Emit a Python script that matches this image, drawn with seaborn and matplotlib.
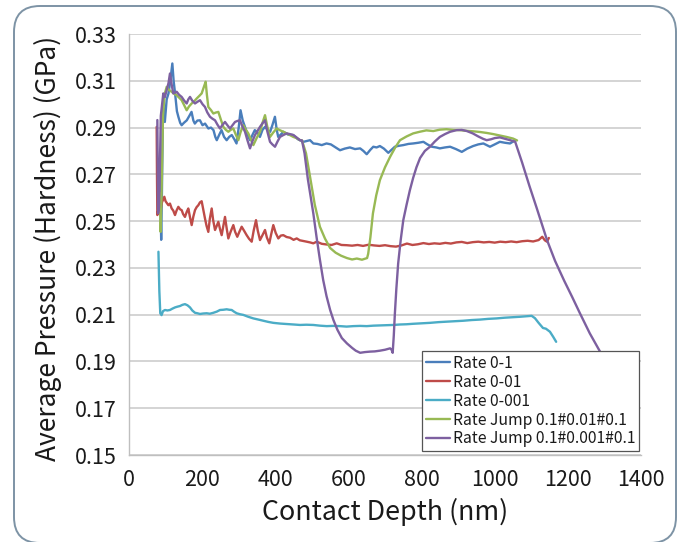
import numpy as np
import pandas as pd
import matplotlib
matplotlib.use("Agg")
import matplotlib.pyplot as plt
import seaborn as sns
from matplotlib.patches import FancyBboxPatch
from matplotlib.transforms import IdentityTransform

# ---------------- data ----------------
series_names = ["Rate 0-1", "Rate 0-01", "Rate 0-001",
                "Rate Jump 0.1#0.01#0.1", "Rate Jump 0.1#0.001#0.1"]
series_colors = ["#4A7EBB", "#BE4B48", "#4BACC6", "#98B954", "#7D60A0"]

blue_x = [84, 88, 90, 93, 98, 103, 108, 113, 118.5, 122, 126, 131, 135, 140, 144, 150, 158, 165, 171, 176,
          180, 187, 194, 201, 208, 217, 224, 231, 236, 240, 247, 253, 260, 267, 274, 281, 288, 294, 300, 305,
          311, 317, 324, 331, 338, 344, 351, 358, 365, 372, 379, 386, 392, 399, 404, 408, 415, 422, 435, 449,
          462, 477, 495, 504, 515, 527, 540, 552, 565, 577, 590, 604, 618, 632, 641, 650, 660, 668, 677, 686,
          697, 709, 718, 727, 738, 750, 764, 777, 791, 805, 816, 828, 840, 850, 864, 878, 894, 910, 925, 941,
          955, 969, 978, 987, 1000, 1014, 1028, 1042, 1050, 1058]
blue_y = [0.275, 0.242, 0.262, 0.300, 0.2924, 0.302, 0.3046, 0.310, 0.3174, 0.310, 0.3046, 0.297, 0.2946, 0.292,
          0.2910, 0.292, 0.2931, 0.295, 0.2967, 0.293, 0.2917, 0.293, 0.2931, 0.291, 0.2917, 0.2896, 0.290, 0.2889,
          0.286, 0.2846, 0.287, 0.2889, 0.286, 0.2846, 0.286, 0.2868, 0.285, 0.2832, 0.290, 0.2974, 0.293, 0.2903,
          0.287, 0.2846, 0.287, 0.2889, 0.288, 0.2860, 0.289, 0.2903, 0.289, 0.2882, 0.291, 0.2946, 0.289, 0.2860,
          0.287, 0.2882, 0.287, 0.2868, 0.285, 0.2839, 0.2846, 0.2832, 0.2830, 0.2825, 0.2832, 0.2828, 0.2815,
          0.2803, 0.2810, 0.2815, 0.2808, 0.2811, 0.2800, 0.2786, 0.2805, 0.2818, 0.2815, 0.2821, 0.2810, 0.2792,
          0.2805, 0.2818, 0.2822, 0.2825, 0.2830, 0.2832, 0.2835, 0.2839, 0.2828, 0.2818, 0.2815, 0.2811, 0.2815,
          0.2818, 0.2808, 0.2796, 0.2810, 0.2821, 0.2828, 0.2832, 0.2825, 0.2818, 0.2828, 0.2839, 0.2835, 0.2832,
          0.2840, 0.2846]

red_x = [75.7, 76.5, 77.5, 80, 84.8, 90, 96.6, 100, 107.6, 112, 116.7, 121, 125.8, 130, 134.9, 140, 144, 148,
         153, 158, 162.2, 167, 171.4, 176, 180.5, 185, 189.6, 194, 198.7, 203, 207.8, 212, 216.9, 221, 226.1,
         230, 235.2, 240, 244.3, 249, 253.4, 258, 262.5, 267, 271.6, 278, 285.3, 290, 296.1, 302, 308.1, 315,
         321.7, 328, 335.5, 341, 347.3, 352, 358.2, 365, 371.9, 377, 383.6, 389, 394.6, 401, 408.3, 415, 421.9,
         431, 440.3, 450, 458.6, 467, 476.6, 486, 494.9, 504, 513.3, 527, 540.6, 554, 567.9, 581, 595.3, 610,
         625, 640, 655, 670, 685, 700, 715, 730, 745, 760, 775, 790, 805, 820, 835, 850, 865, 880, 895, 910,
         925, 940, 955, 970, 985, 1000, 1015, 1030, 1045, 1060, 1075, 1090, 1105, 1120, 1130, 1137, 1143, 1148]
red_y = [0.2903, 0.270, 0.2526, 0.2545, 0.2533, 0.258, 0.2604, 0.2585, 0.2568, 0.2575, 0.2554, 0.2545, 0.2526,
         0.2545, 0.2561, 0.2550, 0.2547, 0.2530, 0.2518, 0.2540, 0.2554, 0.2515, 0.2483, 0.2520, 0.2547, 0.2560,
         0.2568, 0.2580, 0.2585, 0.2550, 0.2511, 0.2480, 0.2454, 0.2510, 0.2554, 0.2505, 0.2462, 0.2480, 0.2497,
         0.2465, 0.2440, 0.2480, 0.2518, 0.2470, 0.2426, 0.2455, 0.2483, 0.2455, 0.2433, 0.2455, 0.2476, 0.2458,
         0.2440, 0.2425, 0.2412, 0.2460, 0.2504, 0.2460, 0.2419, 0.2440, 0.2462, 0.2430, 0.2405, 0.2445, 0.2483,
         0.2450, 0.2426, 0.2438, 0.2440, 0.2432, 0.2429, 0.2420, 0.2426, 0.2418, 0.2415, 0.2412, 0.2409, 0.2405,
         0.2412, 0.2403, 0.2400, 0.2398, 0.2405, 0.2398, 0.2397, 0.2395, 0.2398, 0.2394, 0.2399, 0.2396, 0.2394,
         0.2397, 0.2393, 0.2391, 0.2396, 0.2404, 0.2398, 0.2401, 0.2406, 0.2402, 0.2405, 0.2403, 0.2407, 0.2404,
         0.2409, 0.2411, 0.2406, 0.2410, 0.2412, 0.2409, 0.2411, 0.2408, 0.2412, 0.2410, 0.2413, 0.2410, 0.2414,
         0.2416, 0.2413, 0.2419, 0.2433, 0.2418, 0.2412, 0.2428]

cyan_x = [80.5, 83, 85.5, 89, 93, 98.4, 105, 112, 119, 125.8, 132, 139.5, 146, 153.1, 160, 166.8, 173, 180.5,
          187, 194.1, 203, 212.4, 221, 230.6, 240, 248.8, 258, 267.1, 274, 280.8, 288, 294.5, 303, 312.6, 326,
          340, 354, 367.3, 381, 394.6, 413, 431.2, 450, 467.6, 485, 504, 522, 540.6, 558, 577, 595, 613.3, 632,
          650, 668, 686, 704, 722.8, 741, 759, 777, 800, 823, 846, 868, 891, 914, 937, 960, 982, 1005, 1027,
          1048, 1069, 1085, 1101, 1110, 1120, 1132, 1140, 1151, 1160, 1168]
cyan_y = [0.2369, 0.2200, 0.2106, 0.2098, 0.2115, 0.2120, 0.2118, 0.2120, 0.2126, 0.2131, 0.2134, 0.2137,
          0.2142, 0.2145, 0.2140, 0.2131, 0.2118, 0.2108, 0.2106, 0.2103, 0.2105, 0.2106, 0.2104, 0.2108, 0.2113,
          0.2120, 0.2121, 0.2123, 0.2121, 0.2120, 0.2112, 0.2106, 0.2102, 0.2099, 0.2091, 0.2084, 0.2079, 0.2074,
          0.2069, 0.2065, 0.2062, 0.2060, 0.2058, 0.2056, 0.2057, 0.2056, 0.2053, 0.2051, 0.2052, 0.2051, 0.2049,
          0.2051, 0.2052, 0.2051, 0.2053, 0.2054, 0.2055, 0.2056, 0.2058, 0.2059, 0.2061, 0.2063, 0.2065, 0.2068,
          0.2070, 0.2072, 0.2074, 0.2077, 0.2079, 0.2082, 0.2084, 0.2087, 0.2089, 0.2091, 0.2093, 0.2095, 0.2085,
          0.2065, 0.2043, 0.2040, 0.2027, 0.2005, 0.1984]

green_x = [85, 86.6, 89, 93, 97, 103, 110, 116.7, 123, 130.4, 137, 144, 151, 157.7, 164, 171.4, 178, 185, 192,
           198.7, 205, 209.6, 213, 216.9, 224, 230.6, 237, 244.3, 251, 258, 265, 271.6, 278, 285.3, 292, 298.9,
           305, 312.6, 319, 326.3, 333, 340, 349, 358.2, 365, 371.9, 378, 385.6, 395, 403.9, 412, 421.9, 435,
           449.3, 458, 467.6, 473, 484, 495, 508, 522, 536, 550, 565, 580, 596, 610, 623, 637, 651, 654, 660,
           667, 676, 686, 700, 714, 728, 741, 759, 777, 795, 813, 832, 850, 868, 887, 905, 923, 941, 960, 978,
           996, 1014, 1032, 1050, 1061]
green_y = [0.262, 0.2454, 0.262, 0.295, 0.3040, 0.3074, 0.3060, 0.3053, 0.3045, 0.3038, 0.3028, 0.3017, 0.2995,
           0.2974, 0.2990, 0.3003, 0.3012, 0.3024, 0.3035, 0.3046, 0.3075, 0.3096, 0.3040, 0.2988, 0.2975, 0.2960,
           0.2964, 0.2967, 0.2935, 0.2903, 0.2890, 0.2882, 0.2890, 0.2896, 0.2870, 0.2846, 0.2880, 0.2910, 0.2892,
           0.2875, 0.2850, 0.2825, 0.2855, 0.2882, 0.2920, 0.2953, 0.2905, 0.2860, 0.2880, 0.2896, 0.2889, 0.2882,
           0.2872, 0.2860, 0.2855, 0.2846, 0.2845, 0.2790, 0.2690, 0.2570, 0.2476, 0.2425, 0.2385, 0.2365, 0.2352,
           0.2342, 0.2336, 0.2340, 0.2335, 0.2342, 0.2360, 0.2430, 0.2533, 0.2610, 0.2675, 0.2730, 0.2775, 0.2815,
           0.2846, 0.2862, 0.2875, 0.2882, 0.2888, 0.2885, 0.2891, 0.2893, 0.2890, 0.2889, 0.2886, 0.2884, 0.2881,
           0.2877, 0.2872, 0.2866, 0.2860, 0.2853, 0.2845]

purple_x = [77.5, 78.5, 79.5, 82, 84, 87, 93.8, 98, 103, 108, 112, 116, 121, 126, 130.4, 137, 144, 151, 157.7,
            162, 166.8, 173, 180.5, 187, 194.1, 201, 207.8, 214, 221.5, 228, 235.2, 242, 248.8, 255, 262.5, 269,
            276.2, 283, 289.9, 296, 303.5, 310, 317.2, 324, 330.9, 337, 344.5, 351, 358.2, 365, 371.9, 378, 385.6,
            392, 399.2, 406, 412.9, 422, 431.2, 440, 449.3, 458, 467.6, 473, 480, 489, 496, 504, 513, 522, 531,
            540, 550, 559, 570, 582, 596, 610, 620, 632, 645, 659, 672, 686, 700, 714, 718, 721, 724, 727, 731,
            736, 743, 750, 759, 768, 777, 786, 796, 809, 823, 836, 850, 864, 878, 896, 910, 924, 940, 955, 968,
            978, 990, 1000, 1014, 1028, 1042, 1056, 1075, 1095, 1115, 1130, 1143, 1165, 1190, 1212, 1233, 1260,
            1288, 1320, 1355, 1385]
purple_y = [0.2932, 0.270, 0.2533, 0.2560, 0.270, 0.295, 0.3046, 0.3030, 0.3060, 0.3090, 0.3131, 0.3090, 0.3046,
            0.3050, 0.3053, 0.3040, 0.3031, 0.3015, 0.3003, 0.3020, 0.3031, 0.3015, 0.3003, 0.3010, 0.3017, 0.3000,
            0.2988, 0.2965, 0.2946, 0.2938, 0.2931, 0.2912, 0.2896, 0.2910, 0.2924, 0.2910, 0.2896, 0.2910, 0.2924,
            0.2928, 0.2931, 0.2905, 0.2882, 0.2845, 0.2811, 0.2840, 0.2868, 0.2885, 0.2903, 0.2918, 0.2931, 0.2885,
            0.2839, 0.2828, 0.2818, 0.2840, 0.2860, 0.2868, 0.2875, 0.2872, 0.2868, 0.2858, 0.2846, 0.2845, 0.2790,
            0.2680, 0.2610, 0.2533, 0.2430, 0.2335, 0.2248, 0.2180, 0.2120, 0.2077, 0.2035, 0.2000, 0.1977, 0.1958,
            0.1946, 0.1937, 0.1940, 0.1942, 0.1943, 0.1946, 0.1950, 0.1956, 0.1950, 0.1937, 0.2010, 0.2105, 0.2210,
            0.2319, 0.2420, 0.2504, 0.2570, 0.2632, 0.2685, 0.2730, 0.2770, 0.2800, 0.2818, 0.2840, 0.2860, 0.2872,
            0.2882, 0.2889, 0.2890, 0.2885, 0.2875, 0.2862, 0.2852, 0.2846, 0.2850, 0.2855, 0.2858, 0.2852, 0.2846,
            0.2839, 0.2750, 0.2650, 0.2555, 0.2482, 0.2419, 0.2330, 0.2245, 0.2175, 0.2106, 0.2020, 0.1942, 0.1850,
            0.1750, 0.1665]

x_ticks = [0, 200, 400, 600, 800, 1000, 1200, 1400]
y_ticks = [0.15, 0.17, 0.19, 0.21, 0.23, 0.25, 0.27, 0.29, 0.31, 0.33]
x_label = "Contact Depth (nm)"
y_label = "Average Pressure (Hardness) (GPa)"

# ---------------- build long table ----------------
frames = []
for name, xs, ys in zip(series_names,
                        [blue_x, red_x, cyan_x, green_x, purple_x],
                        [blue_y, red_y, cyan_y, green_y, purple_y]):
    frames.append(pd.DataFrame({"depth": xs, "hardness": ys, "series": name}))
df = pd.concat(frames, ignore_index=True)

# ---------------- style ----------------
sns.set_theme(style="white")
plt.rcParams["font.family"] = ["Noto Sans CJK JP", "DejaVu Sans"]
plt.rcParams["text.color"] = "#1a1a1a"

W, H = 680, 542
fig = plt.figure(figsize=(W / 100, H / 100), dpi=100)
ax = fig.add_axes([129 / W, 1 - 455 / H, (641 - 129) / W, (455 - 34) / H])

# rounded outer frame (bottom edge runs just off the canvas)
frame = FancyBboxPatch((14, -1), 676 - 14, 537,
                       boxstyle="round,pad=0,rounding_size=26",
                       transform=IdentityTransform(), facecolor="none",
                       edgecolor="#7d93a5", linewidth=1.4, zorder=0)
fig.patches.append(frame)

ax.set_axisbelow(True)
ax.yaxis.grid(True, color="#d4d4d4", linewidth=1.4)
ax.xaxis.grid(False)

sns.lineplot(data=df, x="depth", y="hardness", hue="series", hue_order=series_names,
             palette=series_colors, sort=False, estimator=None,
             linewidth=1.7, ax=ax, legend=True)

ax.set_xlim(0, 1400)
ax.set_ylim(0.15, 0.33)
ax.set_xticks(x_ticks)
ax.set_xticklabels([str(t) for t in x_ticks])
ax.set_yticks(y_ticks)
ax.set_yticklabels([f"{t:.2f}" for t in y_ticks])

for s in ["top", "right"]:
    ax.spines[s].set_visible(False)
for s in ["left", "bottom"]:
    ax.spines[s].set_color("#bfbfbf")
    ax.spines[s].set_linewidth(1.0)

ax.tick_params(axis="both", which="major", direction="out", length=5, width=1,
               color="#bfbfbf", labelsize=15.5, labelcolor="#1a1a1a")
ax.tick_params(axis="x", pad=5)
ax.tick_params(axis="y", pad=4)

ax.set_xlabel(x_label, fontsize=19.3, color="#1a1a1a")
ax.set_ylabel(y_label, fontsize=19, color="#1a1a1a")
ax.xaxis.set_label_coords(0.5, -0.103)
ax.yaxis.set_label_coords(-0.13, 0.49)

handles, labels = ax.get_legend_handles_labels()
leg = ax.legend(handles, labels, loc="upper right", bbox_to_anchor=(0.997, 0.247),
                borderaxespad=0, frameon=True, fancybox=False, framealpha=1,
                edgecolor="#555555", fontsize=11.3, handlelength=1.5, handletextpad=0.2,
                labelspacing=0.12, borderpad=0.25)
leg.get_frame().set_linewidth(0.9)
for h in leg.get_lines():
    h.set_linewidth(1.7)

fig.savefig("out.png", dpi=100)
